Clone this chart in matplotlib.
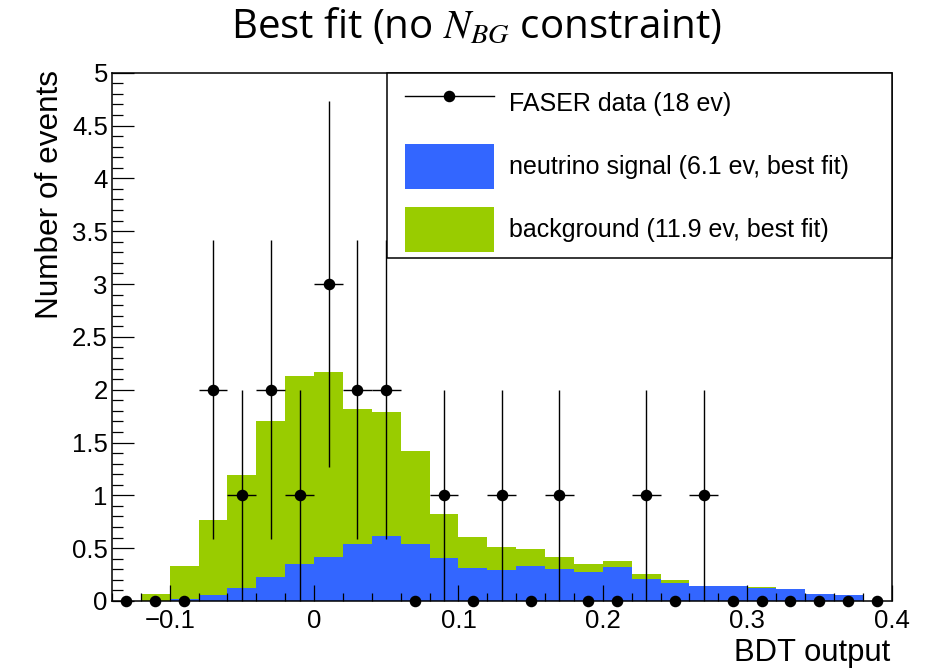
import numpy as np
import matplotlib
matplotlib.use("Agg")
import matplotlib.pyplot as plt
from matplotlib.lines import Line2D
from matplotlib.patches import Patch, Rectangle
from matplotlib.ticker import MultipleLocator, FuncFormatter

plt.rcParams['font.family'] = ['Liberation Sans', 'DejaVu Sans']
plt.rcParams['mathtext.fontset'] = 'stix'

# bin edges of the BDT output histogram (width 0.02)
bin_lo = -0.14
bin_w = 0.02
n_bins = 27

# observed FASER events per bin
data_counts = [0, 0, 0, 2, 1, 2, 1, 3, 2, 2, 0, 1, 0, 1,
               0, 1, 0, 0, 1, 0, 1, 0, 0, 0, 0, 0, 0]

# neutrino signal (best fit) per bin
signal = [0.0, 0.0, 0.019, 0.054, 0.123, 0.227, 0.347, 0.416, 0.543, 0.612,
          0.543, 0.407, 0.316, 0.297, 0.328, 0.306, 0.278, 0.319, 0.208, 0.167,
          0.142, 0.142, 0.127, 0.114, 0.066, 0.057, 0.0]

# background (best fit) per bin, stacked on top of the signal
background = [0.0, 0.063, 0.315, 0.713, 1.067, 1.473, 1.783, 1.754, 1.277, 1.178,
              0.877, 0.417, 0.293, 0.211, 0.161, 0.111, 0.072, 0.060, 0.051, 0.032,
              0.0, 0.0, 0.006, 0.0, 0.0, 0.0, 0.0]

legend_labels = ["FASER data (18 ev)",
                 "neutrino signal (6.1 ev, best fit)",
                 "background (11.9 ev, best fit)"]

blue = "#3366ff"
green = "#99cc00"

centers = bin_lo + bin_w * (np.arange(n_bins) + 0.5)
data_counts = np.array(data_counts, dtype=float)
signal = np.array(signal)
background = np.array(background)

W, H = 935, 670
fig = plt.figure(figsize=(W / 100, H / 100), dpi=100)
ax = fig.add_axes([112 / W, 1 - 601 / H, (891.5 - 112) / W, (601 - 72.7) / H])

# stacked histogram
ax.bar(centers, signal, width=bin_w, color=blue, linewidth=0, zorder=1)
ax.bar(centers, background, width=bin_w, bottom=signal, color=green, linewidth=0, zorder=1)

# data points with sqrt(N) errors (no error bars on empty bins)
nz = data_counts > 0
ax.errorbar(centers[nz], data_counts[nz], yerr=np.sqrt(data_counts[nz]),
            xerr=bin_w / 2, fmt='o', color='black', ms=7.3, elinewidth=1.0,
            capsize=0, zorder=3, clip_on=False)
ax.plot(centers[~nz], data_counts[~nz], 'o', color='black', ms=7.3,
        zorder=3, clip_on=False)

ax.set_xlim(-0.14, 0.4)
ax.set_ylim(0, 5)

for s in ax.spines.values():
    s.set_linewidth(1.1)
    s.set_zorder(4)

ax.xaxis.set_major_locator(MultipleLocator(0.1))
ax.xaxis.set_minor_locator(MultipleLocator(0.02))
ax.yaxis.set_major_locator(MultipleLocator(0.5))
ax.yaxis.set_minor_locator(MultipleLocator(0.1))
fmt = FuncFormatter(lambda v, p: ("%g" % round(v, 3)).replace("-", "\u2212"))
ax.xaxis.set_major_formatter(fmt)
ax.yaxis.set_major_formatter(fmt)

ax.tick_params(which='both', direction='in', top=False, right=False,
               labelsize=18.5, width=0.9, color='black')
ax.tick_params(axis='x', which='major', length=11.5, pad=6)
ax.tick_params(axis='x', which='minor', length=5.5)
ax.tick_params(axis='y', which='major', length=15.8, pad=3)
ax.tick_params(axis='y', which='minor', length=7.9)

# legend box
box_x0 = (387 - 112) / (891.5 - 112)
box_y0 = (601 - 258) / (601 - 72.7)
ax.add_patch(Rectangle((box_x0, box_y0), 1 - box_x0, 1 - box_y0,
                       transform=ax.transAxes, facecolor='white',
                       edgecolor='black', linewidth=1.1, zorder=4.5,
                       clip_on=False))

handles = [Line2D([], [], color='black', lw=1.0, marker='o', ms=7.3),
           Patch(facecolor=blue, edgecolor='none'),
           Patch(facecolor=green, edgecolor='none')]
leg = ax.legend(handles, legend_labels, loc='upper left',
                bbox_to_anchor=(405 / W, 1 - 80.5 / H),
                bbox_transform=fig.transFigure, frameon=False,
                fontsize=18, borderpad=0, borderaxespad=0,
                handlelength=3.55, handleheight=2.4, labelspacing=0.72,
                handletextpad=0.6)
leg.set_zorder(5)

fig.text(50 / W, 1 - 70 / H, "Number of events", rotation=90,
         ha='center', va='top', fontsize=22.7)
fig.text(890 / W, 1 - 653 / H, "BDT output", ha='right', va='center',
         fontsize=22.3)

fig.text(476 / W, 1 - 28 / H, r"Best fit (no $N_{BG}$ constraint)",
         ha='center', va='center', fontsize=29, family=['Open Sans', 'DejaVu Sans'])

fig.savefig("out.png", dpi=100)
